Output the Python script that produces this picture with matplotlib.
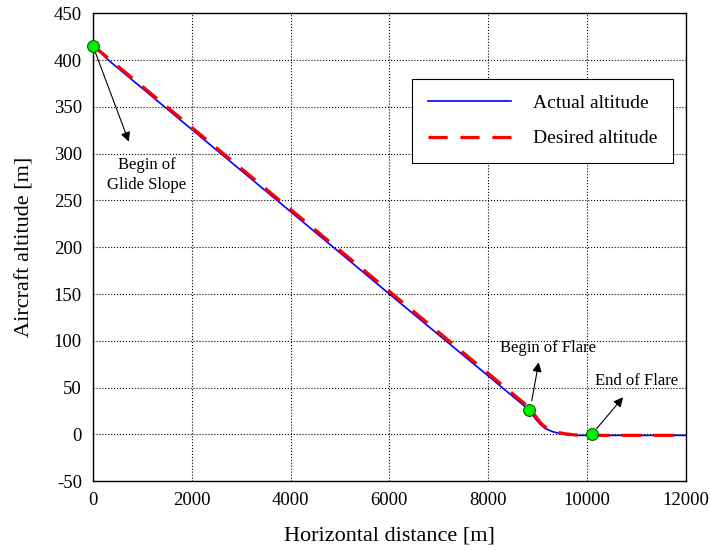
import matplotlib
matplotlib.use("Agg")
import matplotlib.pyplot as plt

plt.rcParams["font.family"] = ["Liberation Serif", "DejaVu Serif"]
plt.rcParams["axes.unicode_minus"] = False

# actual trajectory
dist_actual = [0, 340, 2000, 4000, 6000, 8000, 8832, 8950, 9050, 9150, 9300, 9450, 9600, 9800, 12000]
alt_actual = [415, 398.6, 325.8, 238, 150, 62.5, 26, 17, 11, 6.5, 3, 1, -0.5, -1, -1]

# desired trajectory
dist_desired = [0, 8850, 8950, 9050, 9150, 9250, 9400, 9550, 9750, 9950, 12000]
alt_desired = [415.5, 28, 20, 13, 8, 4.5, 2.3, 0.8, -0.5, -1, -1]

# marker points
mark_x = [0, 8832, 10100]
mark_y = [415, 26, 0]

fig = plt.figure(figsize=(7.1, 5.5), dpi=100)
ax = fig.add_axes([0.131, 0.125, 0.835, 0.851])

ax.plot(dist_actual, alt_actual, color="blue", lw=1.2, label="Actual altitude", zorder=2)
ax.plot(dist_desired, alt_desired, color="red", lw=2.3, ls=(0, (6, 4)), label="Desired altitude", zorder=3)
ax.plot(mark_x, mark_y, "o", ms=8.5, mfc="#00ee00", mec="#006600", mew=0.8, zorder=5, clip_on=False)

ax.set_xlim(0, 12000)
ax.set_ylim(-50, 450)
ax.set_xticks(range(0, 12001, 2000))
ax.set_yticks(range(-50, 451, 50))
ax.grid(True, color="black", ls=":", lw=0.8)
ax.tick_params(labelsize=13.5, direction="in", length=0, pad=8)
for s in ax.spines.values():
    s.set_linewidth(1.0)

ax.set_xlabel("Horizontal distance [m]", fontsize=16, labelpad=12)
ax.set_ylabel("Aircraft altitude [m]", fontsize=16, labelpad=14)

arrow = dict(arrowstyle="-|>", color="black", lw=0.8, mutation_scale=14)
ax.annotate("", xy=(745, 310), xytext=(20, 412), arrowprops=arrow)
ax.text(1087, 277, "Begin of\nGlide Slope", ha="center", va="center", fontsize=12, linespacing=1.3)
ax.annotate("", xy=(9032, 80), xytext=(8870, 33), arrowprops=arrow)
ax.text(9200, 92, "Begin of Flare", ha="center", va="center", fontsize=12)
ax.annotate("", xy=(10765, 42), xytext=(10160, 4), arrowprops=arrow)
ax.text(11010, 57, "End of Flare", ha="center", va="center", fontsize=12)

leg = ax.legend(loc="upper left", bbox_to_anchor=(0.522, 0.88), fontsize=14,
                frameon=True, fancybox=False, edgecolor="black", framealpha=1,
                handlelength=4.3, handletextpad=1.1, borderpad=0.8, labelspacing=0.9)
leg.get_frame().set_linewidth(0.8)

fig.savefig("out.png", dpi=100)
